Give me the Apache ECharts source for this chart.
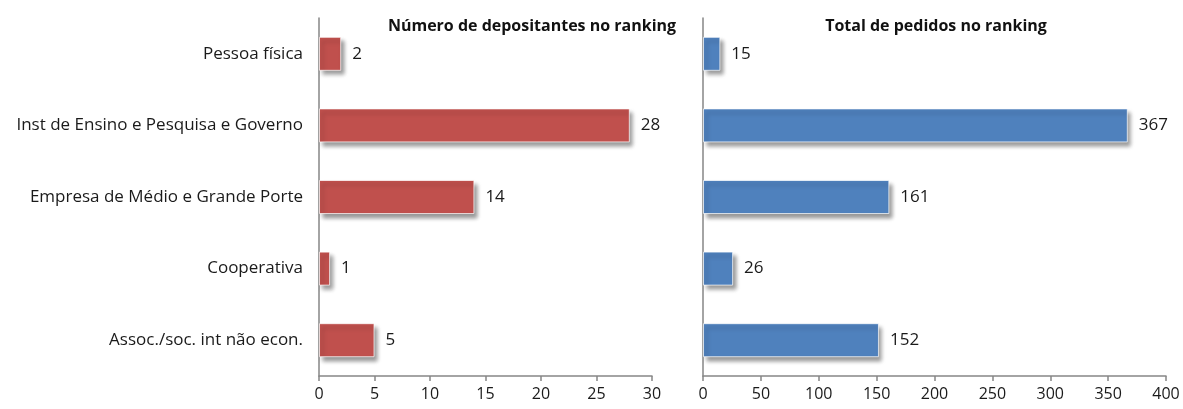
<!DOCTYPE html>
<html lang="pt">
<head>
    <meta charset="UTF-8">
    <title>Ranking</title>
    <script type="text/javascript" src="https://cdn.jsdelivr.net/npm/echarts@6/dist/echarts.min.js"></script>
    <style>
        html, body { margin: 0; padding: 0; background: #fff; }
    </style>
</head>
<body>

<div id="chart" style="width:1183px;height:409px;"></div>

<script type="text/javascript">
    var categorias = ['Pessoa física', 'Inst de Ensino e Pesquisa e Governo', 'Empresa de Médio e Grande Porte', 'Cooperativa', 'Assoc./soc. int não econ.'];
    var depositantes = [2, 28, 14, 1, 5];
    var pedidos = [15, 367, 161, 26, 152];
    var tituloEsq = 'Número de depositantes no ranking';
    var tituloDir = 'Total de pedidos no ranking';

    var fonte = '"Open Sans", "Liberation Sans", sans-serif';
    var corEixo = '#868686';

    function eixoY(grid, mostrarRotulo, tickLen) {
        return {
            type: 'category',
            gridIndex: grid,
            data: categorias,
            inverse: true,
            axisLine: { lineStyle: { color: corEixo, width: 1.5 } },
            axisTick: { length: tickLen, lineStyle: { color: corEixo, width: 1.5 } },
            axisLabel: {
                show: mostrarRotulo,
                margin: 16,
                color: '#1a1a1a',
                fontFamily: fonte,
                fontSize: 17
            }
        };
    }

    function eixoX(grid, max, intervalo) {
        return {
            type: 'value',
            gridIndex: grid,
            min: 0,
            max: max,
            interval: intervalo,
            splitLine: { show: false },
            axisLine: { show: true, lineStyle: { color: corEixo, width: 1.5 } },
            axisTick: { show: true, length: 5, lineStyle: { color: corEixo, width: 1.5 } },
            axisLabel: {
                margin: 10,
                color: '#1a1a1a',
                fontFamily: fonte,
                fontSize: 16
            }
        };
    }

    function serie(nome, dados, cor, grid) {
        return {
            name: nome,
            type: 'bar',
            xAxisIndex: grid,
            yAxisIndex: grid,
            data: dados,
            barWidth: 34,
            itemStyle: {
                color: cor,
                borderColor: 'rgba(255,255,255,0.7)',
                borderWidth: 1,
                shadowColor: 'rgba(0,0,0,0.4)',
                shadowBlur: 4,
                shadowOffsetX: 3,
                shadowOffsetY: 4
            },
            label: {
                show: true,
                position: 'right',
                distance: 11,
                color: '#1a1a1a',
                fontFamily: fonte,
                fontSize: 17
            }
        };
    }

    var myChart = echarts.init(document.getElementById('chart'));
    var option = {
        animation: false,
        title: [
            {
                text: tituloEsq, left: 527, top: 13, textAlign: 'center',
                textStyle: { fontFamily: fonte, fontSize: 16, fontWeight: 'bold', color: '#111' }
            },
            {
                text: tituloDir, left: 931, top: 13, textAlign: 'center',
                textStyle: { fontFamily: fonte, fontSize: 16, fontWeight: 'bold', color: '#111' }
            }
        ],
        grid: [
            { left: 319, right: 531, top: 18, bottom: 33, containLabel: false },
            { left: 703, right: 17, top: 18, bottom: 33, containLabel: false }
        ],
        xAxis: [eixoX(0, 30, 5), eixoX(1, 400, 50)],
        yAxis: [eixoY(0, true, 7), eixoY(1, false, 18)],
        series: [
            serie('Depositantes', depositantes, '#C0504D', 0),
            serie('Pedidos', pedidos, '#4F81BD', 1)
        ]
    };
    myChart.setOption(option);
</script>

</body>
</html>
